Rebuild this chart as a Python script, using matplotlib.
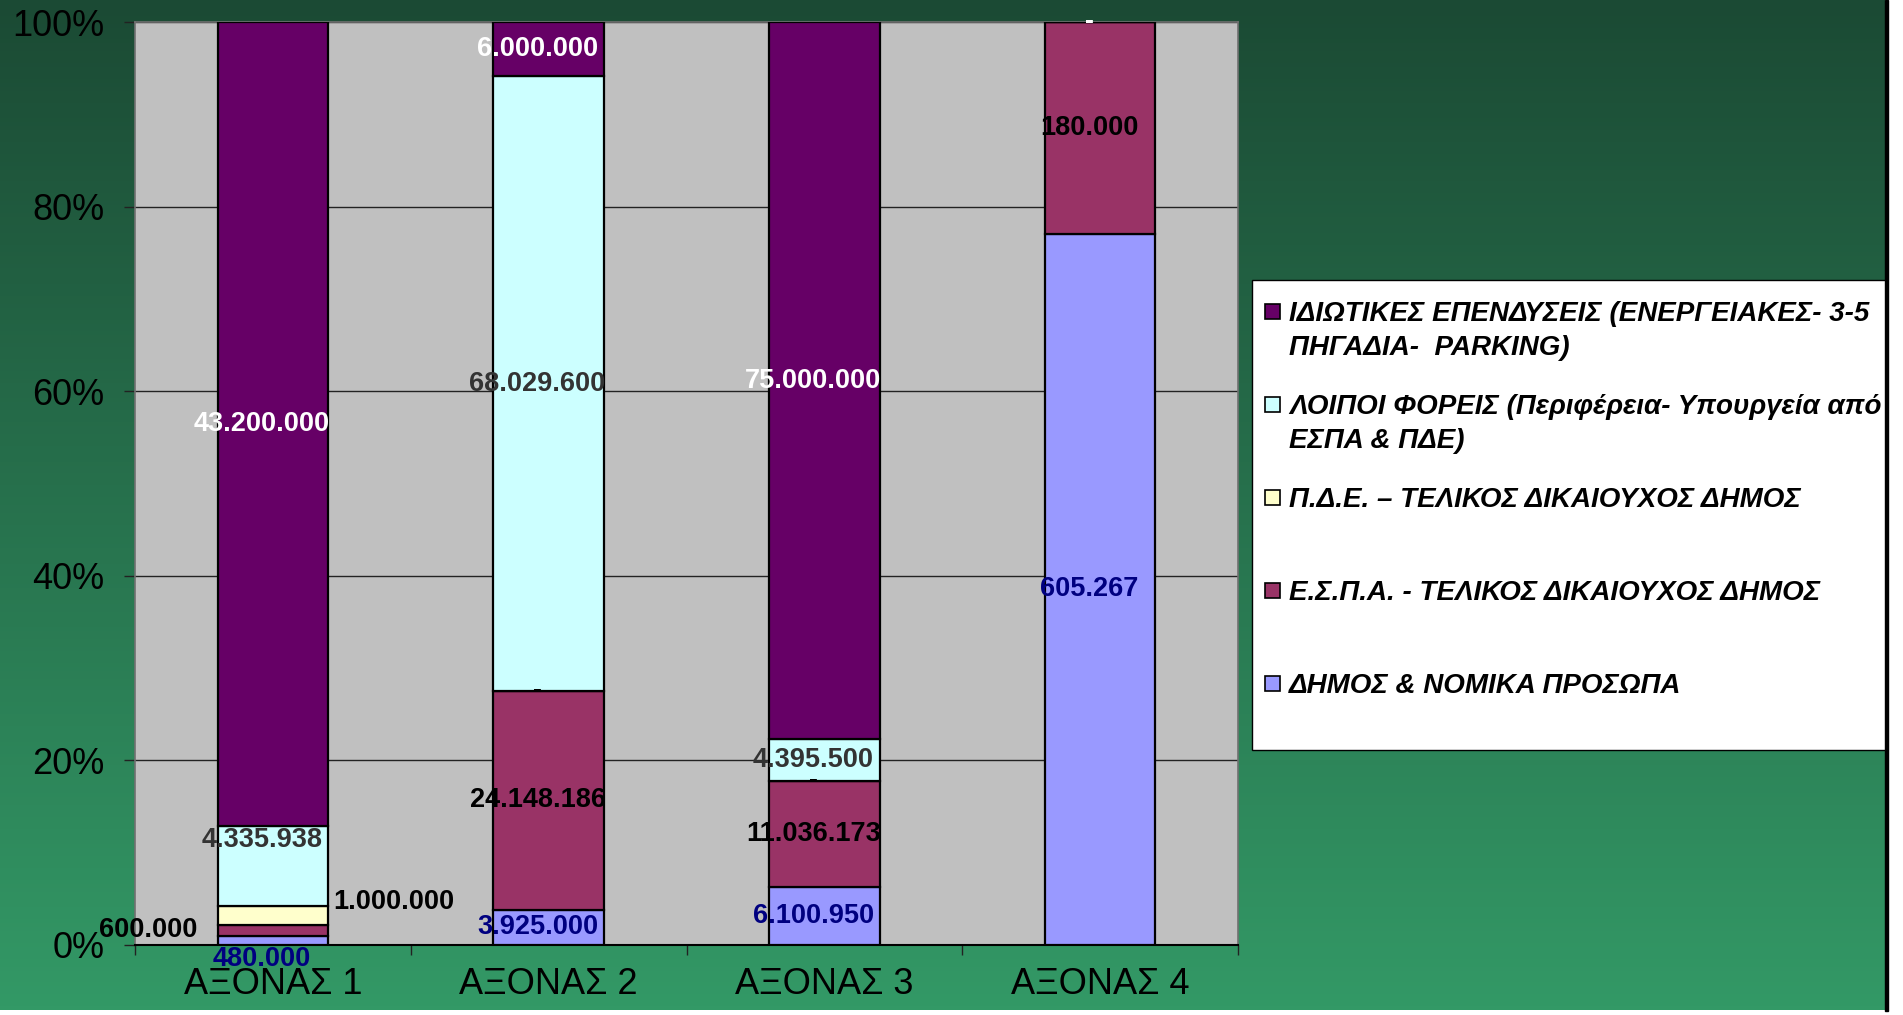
import matplotlib
matplotlib.use('Agg')
import matplotlib.pyplot as plt
import numpy as np
from matplotlib.patches import Rectangle

plt.rcParams['font.family'] = ['Liberation Sans', 'DejaVu Sans']

W, H = 1903, 1015

categories = ['ΑΞΟΝΑΣ 1', 'ΑΞΟΝΑΣ 2', 'ΑΞΟΝΑΣ 3', 'ΑΞΟΝΑΣ 4']

# series from bottom of the stack to the top
# None = empty cell (no label), 0 = shown as "-"
dimos = [480000, 3925000, 6100950, 605267]
espa = [600000, 24148186, 11036173, 180000]
pde = [1000000, 0, 0, None]
loipoi = [4335938, 68029600, 4395500, None]
idiotikes = [43200000, 6000000, 75000000, 0]

series = [dimos, espa, pde, loipoi, idiotikes]
series_names = [
    'ΔΗΜΟΣ & ΝΟΜΙΚΑ ΠΡΟΣΩΠΑ',
    'Ε.Σ.Π.Α. - ΤΕΛΙΚΟΣ ΔΙΚΑΙΟΥΧΟΣ ΔΗΜΟΣ',
    'Π.Δ.Ε. – ΤΕΛΙΚΟΣ ΔΙΚΑΙΟΥΧΟΣ ΔΗΜΟΣ',
    'ΛΟΙΠΟΙ ΦΟΡΕΙΣ (Περιφέρεια- Υπουργεία από\nΕΣΠΑ & ΠΔΕ)',
    'ΙΔΙΩΤΙΚΕΣ ΕΠΕΝΔΥΣΕΙΣ (ΕΝΕΡΓΕΙΑΚΕΣ- 3-5\nΠΗΓΑΔΙΑ-  PARKING)',
]
colors = ['#9999FF', '#993366', '#FFFFCC', '#CCFFFF', '#660066']
label_colors = ['#000080', 'black', 'black', '#333333', 'white']

# labels that were dragged away from the segment centre (points)
moved = {(0, 0): (0, -13), (1, 0): (-82, 0), (2, 0): (95, 10), (3, 0): (0, 19)}

fig = plt.figure(figsize=(W / 100, H / 100), dpi=100)
fig.patch.set_facecolor('white')

# green gradient background
bg = fig.add_axes([0, 5 / H, 1885 / W, 1 - 5 / H], zorder=-10)
top = np.array([27, 74, 52]) / 255
bot = np.array([51, 153, 102]) / 255
t = np.linspace(0, 1, 256)[:, None, None]
bg.imshow(top + (bot - top) * t, aspect='auto', extent=[0, 1, 0, 1], origin='upper')
bg.axis('off')
fig.patches.append(Rectangle((1885 / W, 4 / H), 3 / W, 1 - 4 / H,
                             transform=fig.transFigure, color='black', zorder=-5))

ax = fig.add_axes([135 / W, 70 / H, (1238 - 135) / W, (945 - 22) / H])
ax.set_facecolor('#C0C0C0')

vals = np.array([[0 if v is None else v for v in s] for s in series], dtype=float)
totals = vals.sum(axis=0)
pct = vals / totals * 100
x = np.arange(len(categories))

bottom = np.zeros(len(categories))
for i, s in enumerate(series):
    ax.bar(x, pct[i], 0.4, bottom=bottom, color=colors[i], edgecolor='black',
           linewidth=1.6, zorder=3)
    for j, v in enumerate(s):
        if v is None:
            continue
        txt = '-' if v == 0 else f'{v:,}'.replace(',', '.')
        dx, dy = moved.get((i, j), (0, 0))
        ax.annotate(txt, (x[j], bottom[j] + pct[i][j] / 2), xytext=(-8 + dx, dy),
                    textcoords='offset points', ha='center', va='center',
                    fontsize=19.5, fontweight='bold', color=label_colors[i],
                    annotation_clip=False, zorder=5)
    bottom += pct[i]

ax.set_xlim(-0.5, 3.5)
ax.set_ylim(0, 100)
ax.set_yticks(np.arange(0, 101, 20))
ax.set_yticklabels([f'{v}%' for v in range(0, 101, 20)])
ax.set_xticks(x)
ax.set_xticklabels(categories)
ax.set_xticks(np.arange(-0.5, 4, 1), minor=True)
ax.tick_params(axis='y', labelsize=26, length=8, width=1, pad=14, color='#222222')
ax.tick_params(axis='x', which='major', labelsize=26, length=0, pad=16)
ax.tick_params(axis='x', which='minor', length=7, width=1, color='#222222')
ax.yaxis.grid(True, color='#222222', linewidth=1)
ax.set_axisbelow(True)
for side in ['left', 'right', 'top']:
    ax.spines[side].set_color('#707070')
    ax.spines[side].set_linewidth(1.2)
ax.spines['bottom'].set_color('black')
ax.spines['bottom'].set_linewidth(1.5)

# legend box drawn by hand (equal slots like the original)
fig.patches.append(Rectangle((1252 / W, (H - 750) / H), (1885 - 1252) / W, (750 - 280) / H,
                             transform=fig.transFigure, facecolor='white',
                             edgecolor='black', linewidth=1, zorder=1))
slot_y = 311
for k, i in enumerate(range(len(series) - 1, -1, -1)):
    yc = slot_y + k * 93
    fig.patches.append(Rectangle((1265 / W, (H - yc - 7.5) / H), 15 / W, 15 / H,
                                 transform=fig.transFigure, facecolor=colors[i],
                                 edgecolor='black', linewidth=1.2, zorder=2))
    for n, line in enumerate(series_names[i].split('\n')):
        fig.text(1289 / W, (H - yc - 10 - n * 34) / H, line, fontsize=20,
                 fontweight='bold', fontstyle='italic', va='baseline', ha='left',
                 zorder=3)

fig.savefig('out.png', dpi=100)
